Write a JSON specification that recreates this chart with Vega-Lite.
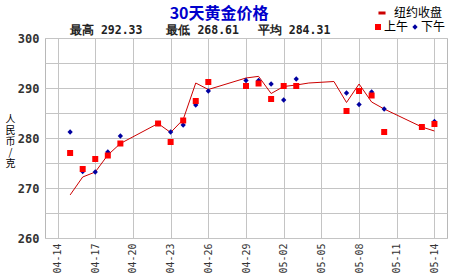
{
  "$schema": "https://vega.github.io/schema/vega-lite/v6.json",
  "width": 402,
  "height": 200,
  "autosize": "none",
  "padding": {"left": 45, "top": 38, "right": 7, "bottom": 42},
  "background": "white",
  "title": {
    "text": "\u200b\u3000\u3000\u3000\u3000\u3000\u3000\u00a030天黄金价格",
    "subtitle": "最高 292.33\u3000\u3000最低 268.61\u3000\u00a0平均 284.31",
    "anchor": "start",
    "frame": "group",
    "dx": 25,
    "dy": 33,
    "offset": 4,
    "subtitlePadding": 3,
    "font": "Noto Sans CJK SC",
    "fontSize": 16,
    "fontWeight": "bold",
    "color": "#0000cc",
    "subtitleFont": "DejaVu Sans Mono",
    "subtitleFontSize": 11.5,
    "subtitleFontWeight": "bold",
    "subtitleColor": "#222222"
  },
  "datasets": {
    "ny": [
      {"date": "2013/04/15", "price": 268.61},
      {"date": "2013/04/16", "price": 272.2},
      {"date": "2013/04/17", "price": 273.2},
      {"date": "2013/04/18", "price": 276.6},
      {"date": "2013/04/19", "price": 278.9},
      {"date": "2013/04/22", "price": 282.9},
      {"date": "2013/04/23", "price": 281.1},
      {"date": "2013/04/24", "price": 283.7},
      {"date": "2013/04/25", "price": 291.0},
      {"date": "2013/04/26", "price": 289.7},
      {"date": "2013/04/29", "price": 292.0},
      {"date": "2013/04/30", "price": 292.33},
      {"date": "2013/05/01", "price": 288.9},
      {"date": "2013/05/02", "price": 290.3},
      {"date": "2013/05/03", "price": 290.6},
      {"date": "2013/05/04", "price": 291.0},
      {"date": "2013/05/06", "price": 291.3},
      {"date": "2013/05/07", "price": 287.1},
      {"date": "2013/05/08", "price": 290.8},
      {"date": "2013/05/09", "price": 287.2},
      {"date": "2013/05/10", "price": 285.8},
      {"date": "2013/05/13", "price": 282.2},
      {"date": "2013/05/14", "price": 281.4}
    ],
    "sge": [
      {"date": "2013/04/15", "session": "下午", "price": 281.2},
      {"date": "2013/04/16", "session": "下午", "price": 273.3},
      {"date": "2013/04/17", "session": "下午", "price": 273.2},
      {"date": "2013/04/18", "session": "下午", "price": 277.2},
      {"date": "2013/04/19", "session": "下午", "price": 280.4},
      {"date": "2013/04/22", "session": "下午", "price": 282.9},
      {"date": "2013/04/23", "session": "下午", "price": 281.2},
      {"date": "2013/04/24", "session": "下午", "price": 282.6},
      {"date": "2013/04/25", "session": "下午", "price": 286.6},
      {"date": "2013/04/26", "session": "下午", "price": 289.4},
      {"date": "2013/04/29", "session": "下午", "price": 291.5},
      {"date": "2013/04/30", "session": "下午", "price": 291.5},
      {"date": "2013/05/01", "session": "下午", "price": 290.8},
      {"date": "2013/05/02", "session": "下午", "price": 287.6},
      {"date": "2013/05/03", "session": "下午", "price": 291.8},
      {"date": "2013/05/07", "session": "下午", "price": 289.0},
      {"date": "2013/05/08", "session": "下午", "price": 286.7},
      {"date": "2013/05/09", "session": "下午", "price": 289.2},
      {"date": "2013/05/10", "session": "下午", "price": 285.8},
      {"date": "2013/05/13", "session": "下午", "price": 282.2},
      {"date": "2013/05/14", "session": "下午", "price": 283.3},
      {"date": "2013/04/15", "session": "上午", "price": 277.0},
      {"date": "2013/04/16", "session": "上午", "price": 273.8},
      {"date": "2013/04/17", "session": "上午", "price": 275.8},
      {"date": "2013/04/18", "session": "上午", "price": 276.5},
      {"date": "2013/04/19", "session": "上午", "price": 278.9},
      {"date": "2013/04/22", "session": "上午", "price": 282.9},
      {"date": "2013/04/23", "session": "上午", "price": 279.2},
      {"date": "2013/04/24", "session": "上午", "price": 283.5},
      {"date": "2013/04/25", "session": "上午", "price": 287.4},
      {"date": "2013/04/26", "session": "上午", "price": 291.2},
      {"date": "2013/04/29", "session": "上午", "price": 290.4},
      {"date": "2013/04/30", "session": "上午", "price": 290.9},
      {"date": "2013/05/01", "session": "上午", "price": 287.8},
      {"date": "2013/05/02", "session": "上午", "price": 290.4},
      {"date": "2013/05/03", "session": "上午", "price": 290.4},
      {"date": "2013/05/07", "session": "上午", "price": 285.4},
      {"date": "2013/05/08", "session": "上午", "price": 289.4},
      {"date": "2013/05/09", "session": "上午", "price": 288.5},
      {"date": "2013/05/10", "session": "上午", "price": 281.2},
      {"date": "2013/05/13", "session": "上午", "price": 282.2},
      {"date": "2013/05/14", "session": "上午", "price": 282.8}
    ]
  },
  "encoding": {
    "x": {
      "field": "date",
      "type": "temporal",
      "scale": {
        "domain": [
          {"year": 2013, "month": 4, "date": 13},
          {"year": 2013, "month": 5, "date": 15}
        ]
      },
      "axis": {
        "title": null,
        "format": "%m-%d",
        "values": [
          {"year": 2013, "month": 4, "date": 14},
          {"year": 2013, "month": 4, "date": 17},
          {"year": 2013, "month": 4, "date": 20},
          {"year": 2013, "month": 4, "date": 23},
          {"year": 2013, "month": 4, "date": 26},
          {"year": 2013, "month": 4, "date": 29},
          {"year": 2013, "month": 5, "date": 2},
          {"year": 2013, "month": 5, "date": 5},
          {"year": 2013, "month": 5, "date": 8},
          {"year": 2013, "month": 5, "date": 11},
          {"year": 2013, "month": 5, "date": 14}
        ],
        "labelAngle": 270,
        "labelAlign": "right",
        "labelBaseline": "middle",
        "labelPadding": 5,
        "labelFont": "DejaVu Sans Mono",
        "labelFontSize": 10,
        "labelColor": "#333333",
        "labelFlush": false,
        "labelOverlap": false
      }
    },
    "y": {
      "field": "price",
      "type": "quantitative",
      "scale": {"domain": [260, 300], "nice": false, "zero": false},
      "axis": {
        "values": [260, 265, 270, 275, 280, 285, 290, 295, 300],
        "labelExpr": "datum.value % 10 == 0 ? datum.label : ''",
        "labelFont": "DejaVu Sans Mono",
        "labelFontSize": 12,
        "labelFontWeight": "bold",
        "labelColor": "#333333",
        "labelPadding": 6,
        "labelFlush": false,
        "labelOverlap": false,
        "title": ["人", "民", "币", "/", "克"],
        "titleAngle": 0,
        "titleFont": "Noto Sans CJK SC",
        "titleFontSize": 10,
        "titleFontWeight": "normal",
        "titleColor": "#000000",
        "titleLineHeight": 11,
        "titleAlign": "center",
        "titleBaseline": "top",
        "titleX": -35,
        "titleY": 76
      }
    }
  },
  "layer": [
    {
      "data": {"name": "ny"},
      "mark": {"type": "line", "strokeWidth": 1},
      "encoding": {
        "stroke": {
          "datum": "纽约收盘",
          "scale": {"domain": ["纽约收盘"], "range": ["#cc0000"]},
          "legend": {
            "orient": "none",
            "legendX": 331,
            "legendY": -31,
            "title": null,
            "symbolType": "stroke",
            "symbolStrokeWidth": 3,
            "symbolSize": 50,
            "labelFont": "Noto Sans CJK SC",
            "labelFontSize": 12,
            "labelColor": "#000000",
            "labelOffset": 6,
            "padding": 0
          }
        }
      }
    },
    {
      "data": {"name": "sge"},
      "mark": {"type": "point", "filled": true, "opacity": 1},
      "encoding": {
        "fill": {
          "field": "session",
          "type": "nominal",
          "scale": {"domain": ["上午", "下午"], "range": ["#ff0000", "#0000a0"]},
          "legend": {
            "orient": "none",
            "legendX": 327,
            "legendY": -17,
            "direction": "horizontal",
            "title": null,
            "labelFont": "Noto Sans CJK SC",
            "labelFontSize": 12,
            "labelColor": "#000000",
            "labelOffset": 0,
            "columnPadding": 0,
            "symbolSize": 30,
            "padding": 0
          }
        },
        "shape": {
          "field": "session",
          "type": "nominal",
          "scale": {"domain": ["上午", "下午"], "range": ["square", "diamond"]}
        },
        "size": {
          "field": "session",
          "type": "nominal",
          "scale": {"domain": ["上午", "下午"], "range": [36, 28]}
        }
      }
    }
  ],
  "config": {
    "view": {"stroke": "#b8b8b8", "strokeWidth": 1},
    "axis": {
      "ticks": false,
      "domain": false,
      "grid": true,
      "gridColor": "#c4c4c4",
      "gridWidth": 1,
      "gridOpacity": 1
    }
  }
}
